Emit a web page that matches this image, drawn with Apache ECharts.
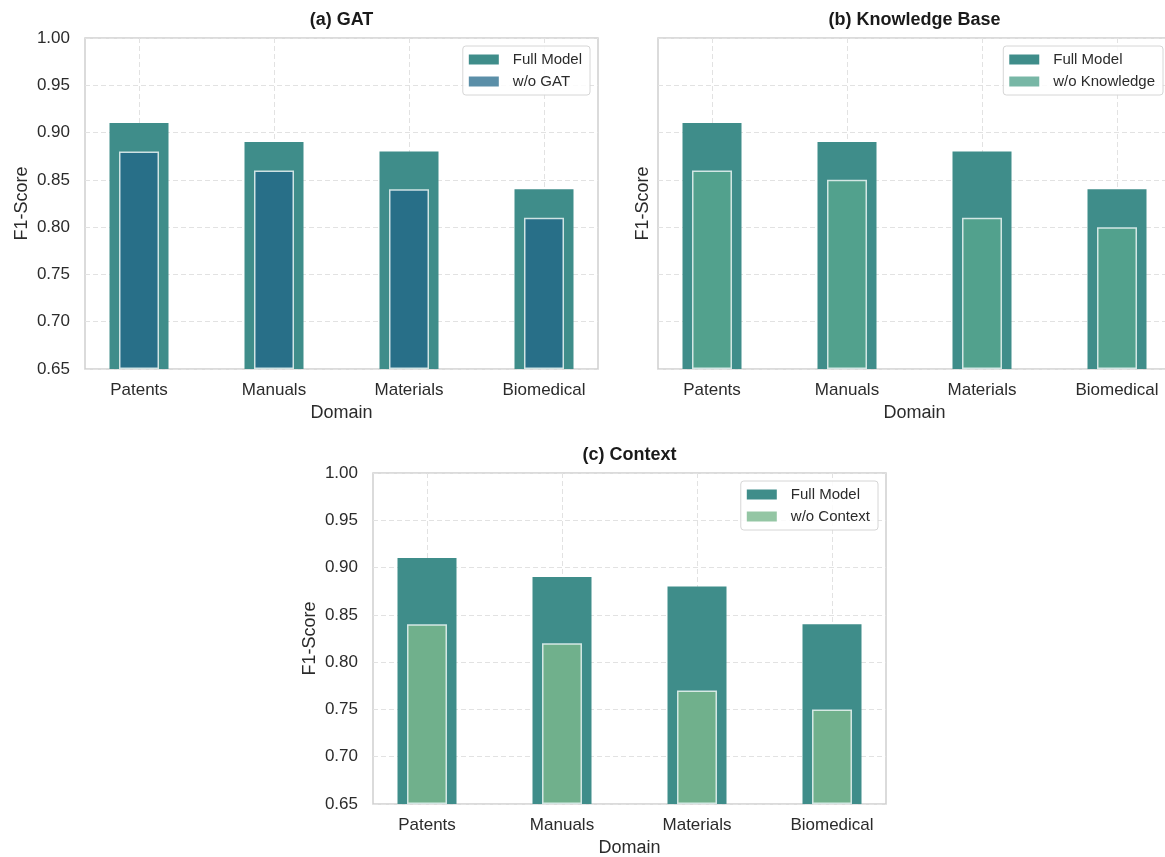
<!DOCTYPE html>
<html>
<head>
<meta charset="utf-8">
<script src="https://cdn.jsdelivr.net/npm/echarts@6/dist/echarts.min.js"></script>
<style>
  html, body { margin: 0; padding: 0; background: #ffffff; }
  #chart { width: 1165px; height: 857px; }
</style>
</head>
<body>
<div id="chart"></div>
<script>
// Ablation results: F1-score per domain
const domains = ['Patents', 'Manuals', 'Materials', 'Biomedical'];
const fullModel = [0.91, 0.89, 0.88, 0.84];
const withoutGAT = [0.88, 0.86, 0.84, 0.81];
const withoutKnowledge = [0.86, 0.85, 0.81, 0.80];
const withoutContext = [0.84, 0.82, 0.77, 0.75];
const yMin = 0.65, yMax = 1.00, yStep = 0.05;

const FONT = '"Liberation Sans", Arial, Helvetica, sans-serif';
const TEXT = '#2b2b2b';
const FULL_COLOR = '#3f8d8a';
const GRID_LINE = { show: true, lineStyle: { color: '#e2e2e2', width: 1, type: [5, 3] } };

// panel frames: left/top of the plot area, width/height shared
const PW = 513, PH = 331;
const INSET = PW * 0.4 / 3.8;
const panels = [
  { title: '(a) GAT', left: 85, top: 38, name: 'w/o GAT', values: withoutGAT,
    color: '#286f88', legendColor: '#5b8fa8', yLabels: true, nameGap: 54 },
  { title: '(b) Knowledge Base', left: 658, top: 38, name: 'w/o Knowledge', values: withoutKnowledge,
    color: '#52a18d', legendColor: '#78b7a6', yLabels: false, nameGap: 6 },
  { title: '(c) Context', left: 373, top: 473, name: 'w/o Context', values: withoutContext,
    color: '#70b08c', legendColor: '#94c6a4', yLabels: true, nameGap: 54 }
];

const grid = [], xAxis = [], yAxis = [], series = [], legend = [], graphic = [];

panels.forEach((p, i) => {
  const frameGrid = grid.length;
  // frame grid: border, horizontal gridlines, y labels
  grid.push({ left: p.left, top: p.top, width: PW, height: PH, show: true,
    outerBoundsMode: 'none',
    borderColor: '#cfcfcf', borderWidth: 1.5, backgroundColor: 'transparent' });
  // data grid: spans the first to last category center
  const dataGrid = grid.length;
  grid.push({ left: p.left + INSET, top: p.top, width: PW - 2 * INSET, height: PH,
    outerBoundsMode: 'none' });

  xAxis.push({ type: 'value', gridIndex: frameGrid, show: false, min: 0, max: 1 });
  yAxis.push({
    type: 'value', gridIndex: frameGrid, min: yMin, max: yMax, interval: yStep,
    name: 'F1-Score', nameLocation: 'middle', nameGap: p.nameGap,
    nameTextStyle: { color: TEXT, fontSize: 18, fontFamily: FONT },
    axisLine: { show: false }, axisTick: { show: false },
    axisLabel: { show: p.yLabels, color: TEXT, fontSize: 17, fontFamily: FONT, margin: 15,
      formatter: v => v.toFixed(2) },
    splitLine: GRID_LINE
  });

  const xMain = xAxis.length;
  xAxis.push({
    type: 'category', gridIndex: dataGrid, data: domains, boundaryGap: false,
    name: 'Domain', nameLocation: 'middle', nameGap: 35,
    nameTextStyle: { color: TEXT, fontSize: 18, fontFamily: FONT },
    axisLine: { show: false }, axisTick: { show: false },
    axisLabel: { color: TEXT, fontSize: 17, fontFamily: FONT, margin: 13, interval: 0 },
    splitLine: Object.assign({ interval: 0 }, GRID_LINE)
  });
  const xInner = xAxis.length;
  xAxis.push({ type: 'category', gridIndex: dataGrid, data: domains, boundaryGap: false, show: false });
  const yData = yAxis.length;
  yAxis.push({ type: 'value', gridIndex: dataGrid, min: yMin, max: yMax, startValue: yMin,
    show: false, splitLine: { show: false } });

  series.push({
    type: 'bar', name: 'Full Model', xAxisIndex: xMain, yAxisIndex: yData,
    data: fullModel, barWidth: 59, clip: false, z: 2,
    itemStyle: { color: FULL_COLOR }
  });
  series.push({
    type: 'bar', name: p.name, xAxisIndex: xInner, yAxisIndex: yData,
    data: p.values, barWidth: 40, clip: false, z: 3,
    itemStyle: { color: p.color, borderColor: 'rgba(235,245,243,0.85)', borderWidth: 1.5 }
  });

  legend.push({
    orient: 'vertical', align: 'left',
    right: 1165 - (p.left + PW - 8), top: p.top + 8,
    icon: 'rect', itemWidth: 30, itemHeight: 10, itemGap: 7,
    padding: [6, 8, 6, 6],
    backgroundColor: 'rgba(255,255,255,0.85)', borderColor: '#d6d6d6', borderWidth: 1, borderRadius: 3,
    textStyle: { color: TEXT, fontSize: 15, fontFamily: FONT, padding: [0, 0, 0, 9] },
    selectedMode: false,
    data: [
      { name: 'Full Model', itemStyle: { color: FULL_COLOR, borderWidth: 0 } },
      { name: p.name, itemStyle: { color: p.legendColor, borderWidth: 0 } }
    ]
  });

  graphic.push({
    type: 'text', x: p.left + PW / 2, y: p.top - 18,
    style: { text: p.title, textAlign: 'center', textVerticalAlign: 'middle',
      fill: '#1a1a1a', font: 'bold 18px ' + FONT }
  });
});

const chart = echarts.init(document.getElementById('chart'), null, { renderer: 'canvas' });
chart.setOption({
  backgroundColor: '#ffffff',
  animation: false,
  grid, xAxis, yAxis, series, legend, graphic
});
</script>
</body>
</html>
